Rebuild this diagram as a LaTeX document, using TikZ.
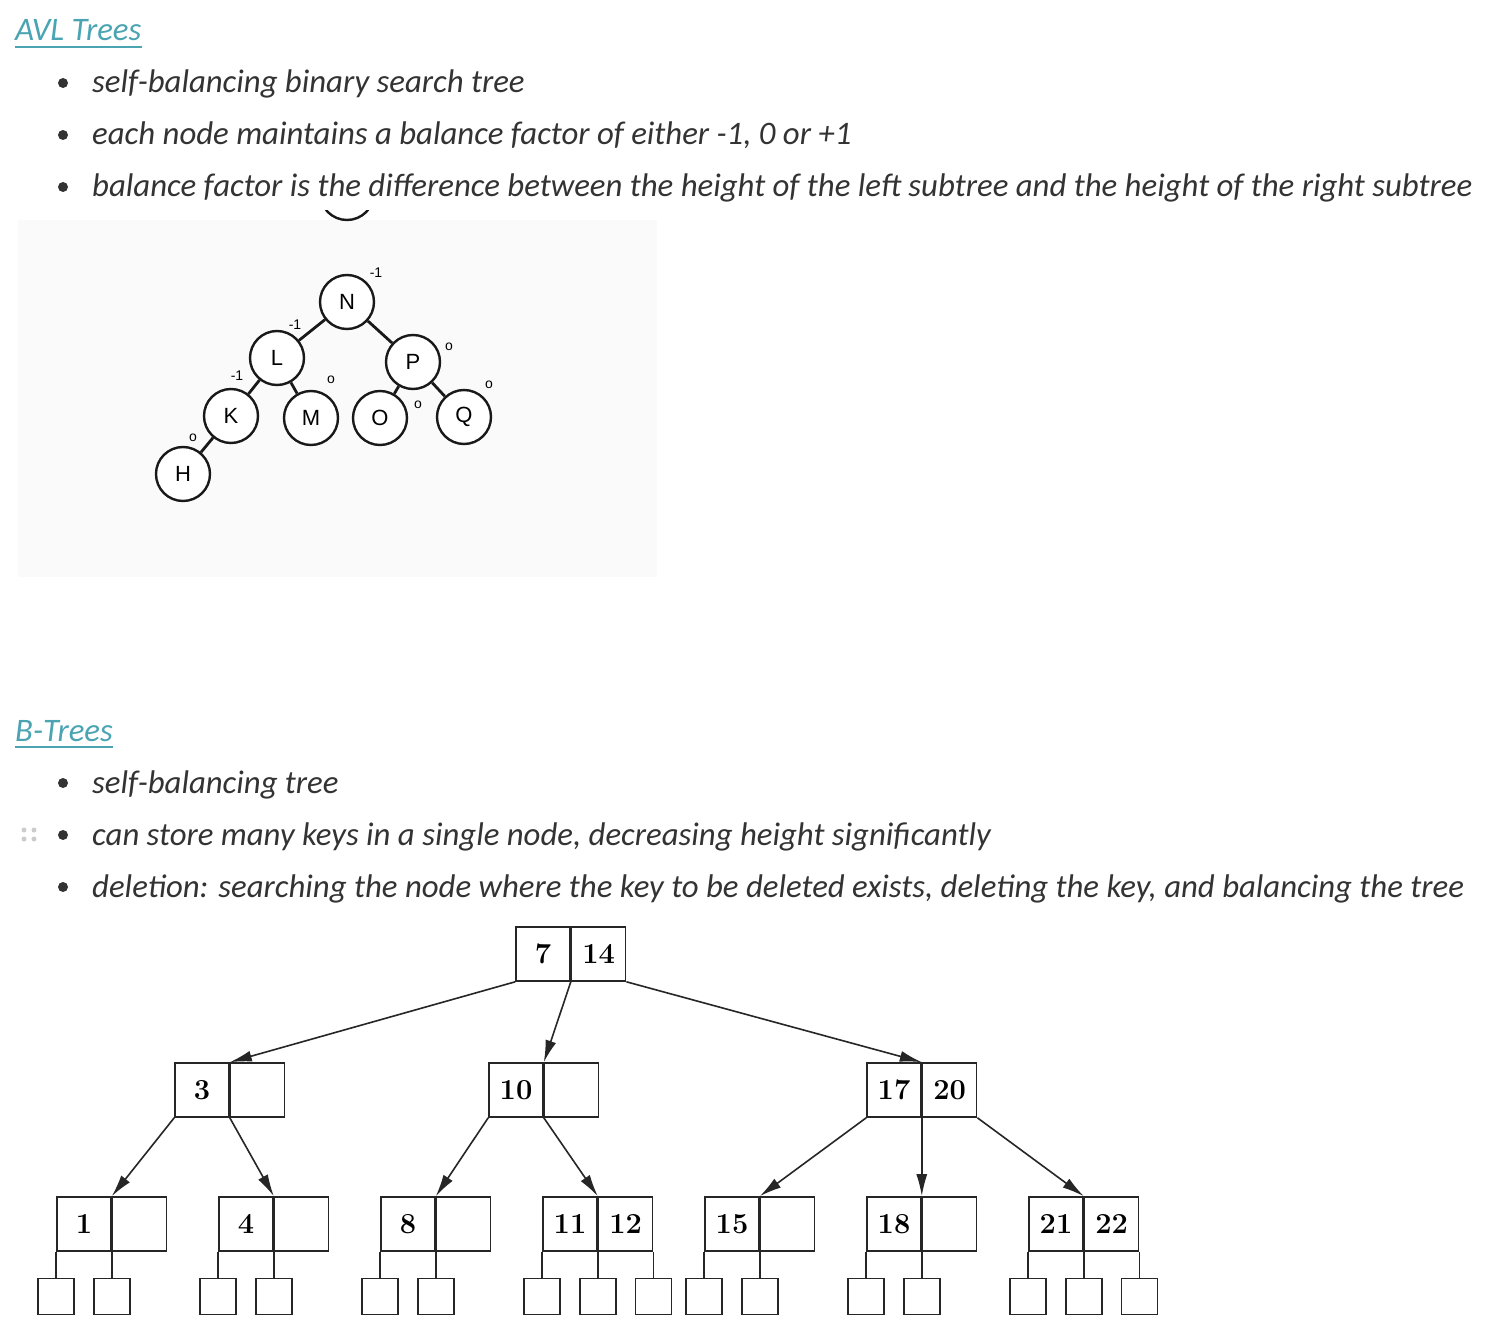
\documentclass[tikz,border=0pt]{standalone}
\usepackage{fontspec}
\newfontfamily\handfont{Carlito}
\newfontfamily\avlfont{Liberation Sans}
\usetikzlibrary{arrows.meta,positioning}
\definecolor{HeadTeal}{HTML}{4AA4B1}
\definecolor{NoteText}{HTML}{333333}
\definecolor{ImgBack}{HTML}{FAFAFA}
\definecolor{HandleGray}{HTML}{CCCCCC}
\newcommand{\notefont}{\handfont\fontsize{32.8}{38}\selectfont\itshape}
\newcommand{\keyfont}{\fontsize{29}{31}\selectfont\rmfamily\bfseries}

\tikzset{
  heading/.style={anchor=base west,inner sep=0pt,font=\notefont,text=HeadTeal},
  bullettext/.style={anchor=base west,inner sep=0pt,font=\notefont,text=NoteText},
  avlnode/.style={circle,draw=black!90,line width=2.4pt,minimum size=54pt,inner sep=0pt,
    fill=white,font=\avlfont\fontsize{22}{22}\selectfont},
  bal/.style={inner sep=0pt,font=\avlfont\fontsize{14}{14}\selectfont},
  avledge/.style={line width=2.8pt,black!90},
  keybox/.style={rectangle,draw=black!85,line width=1.6pt,minimum width=54pt,minimum height=54pt,
    inner sep=0pt,font=\keyfont},
  leafbox/.style={rectangle,draw=black!85,line width=1.6pt,minimum size=36pt,inner sep=0pt},
  tline/.style={draw=black!85,line width=1.6pt},
  tarrow/.style={tline,-{Latex[length=22pt,width=11pt]}},
}

\begin{document}
\begin{tikzpicture}[x=1pt,y=-1pt]
  \useasboundingbox (0,0) rectangle (1486,1340);
  \fill[white] (0,0) rectangle (1486,1340);

  % AVL notes
  \node[heading] (avlhead) at (15,41) {AVL Trees};
  \draw[HeadTeal,line width=1.6pt] ([yshift=-6pt]avlhead.base west) -- ([yshift=-6pt]avlhead.base east);
  \foreach \yy/\txt in {93/{self-balancing binary search tree},
                        145/{each node maintains a balance factor of either -1, 0 or +1},
                        197/{balance factor is the difference between the height of the left subtree and the height of the right subtree}}{
    \fill[NoteText] (63,\yy-10) circle (5pt);
    \node[bullettext] at (92,\yy) {\txt};
  }

  % AVL picture
  \fill[ImgBack] (18,220) rectangle (657,577);
  \begin{scope}
    \clip (300,211) rectangle (400,240);
    \draw[black!90,line width=2.4pt] (347,193) circle (27pt);
  \end{scope}
  \node[avlnode] (N) at (347,302) {N};
  \node[avlnode] (L) at (277,358) {L};
  \node[avlnode] (P) at (413,362) {P};
  \node[avlnode] (K) at (231,416) {K};
  \node[avlnode] (M) at (311,418) {M};
  \node[avlnode] (O) at (380,418) {O};
  \node[avlnode] (Q) at (464,417) {Q};
  \node[avlnode] (H) at (183,474) {H};
  \foreach \a/\b in {N/L,N/P,L/K,L/M,P/O,P/Q,K/H}
    \draw[avledge] (\a) -- (\b);
  \node[bal] at (376,273) {-1};
  \node[bal] at (295,325) {-1};
  \node[bal] at (237,376) {-1};
  \node[bal] at (193,438) {o};
  \node[bal] at (331,380) {o};
  \node[bal] at (449,347) {o};
  \node[bal] at (418,405) {o};
  \node[bal] at (489,385) {o};

  % B-tree notes
  \node[heading] (bhead) at (15,741) {B-Trees};
  \draw[HeadTeal,line width=1.6pt] ([yshift=-6pt]bhead.base west) -- ([yshift=-6pt]bhead.base east);
  \foreach \yy/\txt in {793/{self-balancing tree},
                        845/{can store many keys in a single node, decreasing height significantly},
                        897/{deletion: searching the node where the key to be deleted exists, deleting the key, and balancing the tree}}{
    \fill[NoteText] (63,\yy-10) circle (5pt);
    \node[bullettext] at (92,\yy) {\txt};
  }
  \foreach \hx in {24,34}
    \foreach \hy in {830,839}
      \fill[HandleGray] (\hx,\hy) circle (2.5pt);

  % B-tree
  \node[keybox] (r1) at (543,954) {7};
  \node[keybox,right=0pt of r1] (r2) {14};

  \node[keybox] (a1) at (202,1090) {3};
  \node[keybox,right=0pt of a1] (a2) {};
  \node[keybox] (b1) at (516,1090) {10};
  \node[keybox,right=0pt of b1] (b2) {};
  \node[keybox] (c1) at (894,1090) {17};
  \node[keybox,right=0pt of c1] (c2) {20};

  \foreach \nm/\x/\ka/\kb in {d/84/1/,e/246/4/,f/408/8/,g/570/11/12,h/732/15/,i/894/18/,j/1056/21/22}{
    \node[keybox] (\nm1) at (\x,1224) {\ka};
    \node[keybox,right=0pt of \nm1] (\nm2) {\kb};
  }

  \draw[tarrow] (r1.south west) -- (a1.north east);
  \draw[tarrow] (r1.south east) -- (b1.north east);
  \draw[tarrow] (r2.south east) -- (c1.north east);
  \draw[tarrow] (a1.south west) -- (d1.north east);
  \draw[tarrow] (a1.south east) -- (e1.north east);
  \draw[tarrow] (b1.south west) -- (f1.north east);
  \draw[tarrow] (b1.south east) -- (g1.north east);
  \draw[tarrow] (c1.south west) -- (h1.north east);
  \draw[tarrow] (c1.south east) -- (i1.north east);
  \draw[tarrow] (c2.south east) -- (j1.north east);

  % leaves
  \foreach \nm in {d,e,f,g,h,i,j}{
    \node[leafbox,below=26pt of \nm1.south west] (\nm l1) {};
    \node[leafbox,below=26pt of \nm1.south east] (\nm l2) {};
    \draw[tline] (\nm1.south west) -- (\nm l1);
    \draw[tline] (\nm1.south east) -- (\nm l2);
  }
  \foreach \nm in {g,j}{
    \node[leafbox,below=26pt of \nm2.south east] (\nm l3) {};
    \draw[tline] (\nm2.south east) -- (\nm l3);
  }
\end{tikzpicture}
\end{document}
